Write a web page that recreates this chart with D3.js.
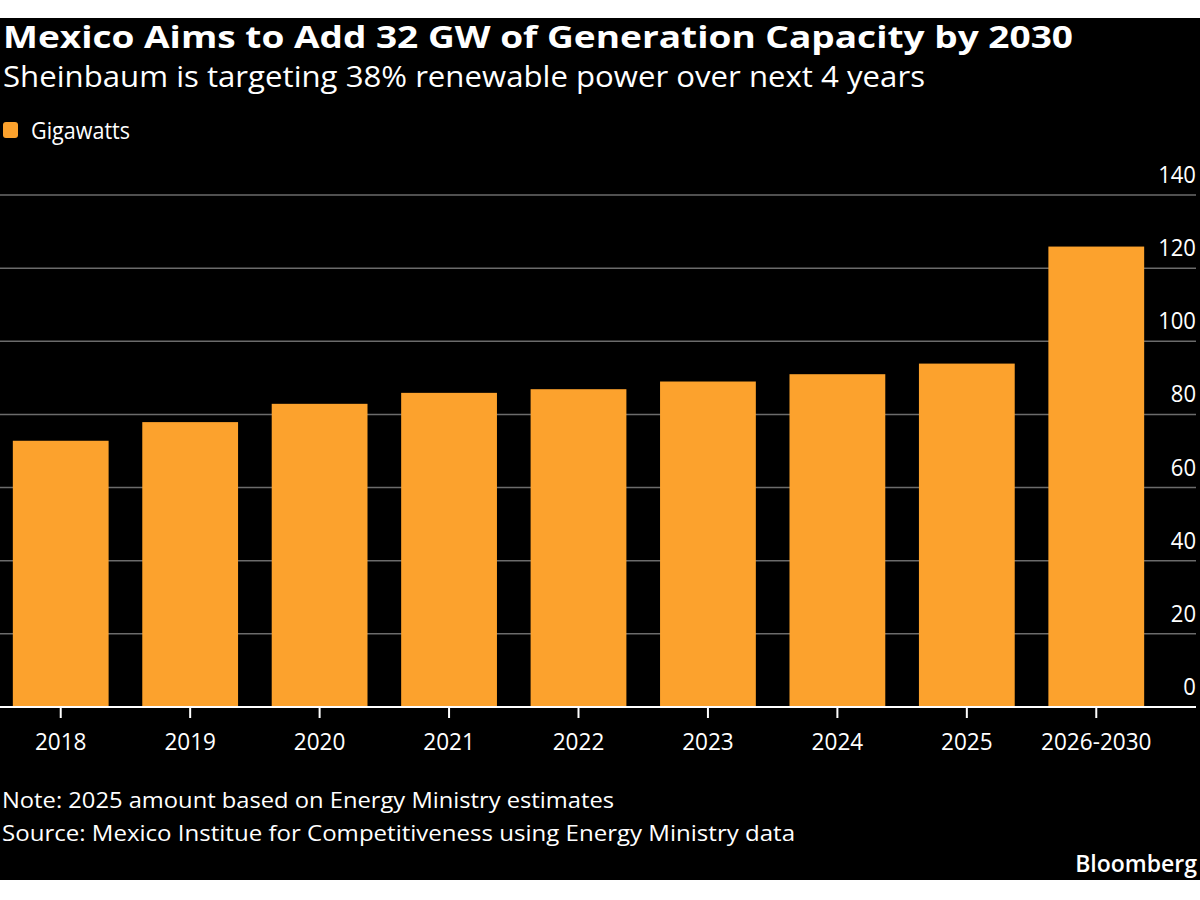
<!DOCTYPE html>
<html>
<head>
<meta charset="utf-8">
<script src="https://cdn.jsdelivr.net/npm/d3@7"></script>
<style>
  body { margin: 0; background: #fff; }
  svg text { font-family: "Open Sans", "Noto Sans", sans-serif; fill: #fff; }
</style>
</head>
<body>
<svg id="chart" width="1200" height="900"></svg>
<script>
// Data
const categories = ["2018", "2019", "2020", "2021", "2022", "2023", "2024", "2025", "2026-2030"];
const gigawatts = [72.8, 77.9, 82.9, 85.9, 86.9, 89.0, 91.0, 93.9, 125.9];
const yTicks = [0, 20, 40, 60, 80, 100, 120, 140];

const titleText = "Mexico Aims to Add 32 GW of Generation Capacity by 2030";
const subtitleText = "Sheinbaum is targeting 38% renewable power over next 4 years";
const legendText = "Gigawatts";
const noteText = "Note: 2025 amount based on Energy Ministry estimates";
const sourceText = "Source: Mexico Institue for Competitiveness using Energy Ministry data";

const svg = d3.select("#chart");

// black panel
svg.append("rect")
    .attr("x", 0).attr("y", 18)
    .attr("width", 1200).attr("height", 862)
    .attr("fill", "#000");

// scales
const x = d3.scaleBand()
    .domain(categories)
    .range([-4, 1161])
    .paddingInner(0.26)
    .paddingOuter(0.13);

const y = d3.scaleLinear()
    .domain([0, 140])
    .range([707, 195]);

// gridlines + y labels (right side, above lines)
svg.append("g").selectAll("line")
    .data(yTicks.filter(d => d > 0))
    .join("line")
    .attr("x1", 0).attr("x2", 1196)
    .attr("y1", d => y(d)).attr("y2", d => y(d))
    .attr("stroke", "#6b6b6b")
    .attr("stroke-width", 1.5);

svg.append("g").selectAll("text")
    .data(yTicks)
    .join("text")
    .attr("x", 1196)
    .attr("y", d => y(d) - 12)
    .attr("text-anchor", "end")
    .attr("font-size", 24)
    .attr("transform", d => "translate(1196," + (y(d) - 12) + ") scale(0.92,1) translate(-1196," + (-(y(d) - 12)) + ")")
    .text(d => d);

// bars
svg.append("g").selectAll("rect")
    .data(gigawatts)
    .join("rect")
    .attr("x", (d, i) => x(categories[i]))
    .attr("y", d => y(d))
    .attr("width", x.bandwidth())
    .attr("height", d => y(0) - y(d))
    .attr("fill", "#fca22d");

// x axis
const xAxis = svg.append("g")
    .attr("transform", "translate(0," + y(0) + ")")
    .call(d3.axisBottom(x).tickSize(11).tickPadding(15));
xAxis.select(".domain").remove();
xAxis.selectAll(".tick line").attr("stroke", "#fff").attr("stroke-width", 2);
xAxis.selectAll(".tick text")
    .attr("fill", "#fff")
    .attr("font-size", 24)
    .attr("font-family", "\"Open Sans\", sans-serif")
    .attr("transform", "scale(0.94,1)");
svg.append("line")
    .attr("x1", 0).attr("x2", 1196)
    .attr("y1", y(0)).attr("y2", y(0))
    .attr("stroke", "#fff")
    .attr("stroke-width", 2);

// titles
svg.append("text")
    .attr("x", 3).attr("y", 48)
    .attr("font-size", 31)
    .attr("font-weight", 700)
    .attr("textLength", 1070)
    .attr("lengthAdjust", "spacingAndGlyphs")
    .text(titleText);

svg.append("text")
    .attr("x", 3).attr("y", 87)
    .attr("font-size", 29)
    .attr("textLength", 922)
    .attr("lengthAdjust", "spacingAndGlyphs")
    .text(subtitleText);

// legend
svg.append("rect")
    .attr("x", 3).attr("y", 122)
    .attr("width", 15).attr("height", 16)
    .attr("rx", 3)
    .attr("fill", "#fca22d");
svg.append("text")
    .attr("x", 31).attr("y", 139)
    .attr("font-size", 24)
    .attr("textLength", 99)
    .attr("lengthAdjust", "spacingAndGlyphs")
    .text(legendText);

// footnotes
svg.append("text")
    .attr("x", 2).attr("y", 808)
    .attr("font-size", 22)
    .attr("textLength", 612)
    .attr("lengthAdjust", "spacingAndGlyphs")
    .text(noteText);
svg.append("text")
    .attr("x", 2).attr("y", 841)
    .attr("font-size", 22)
    .attr("textLength", 793)
    .attr("lengthAdjust", "spacingAndGlyphs")
    .text(sourceText);

svg.append("text")
    .attr("x", 1197).attr("y", 872)
    .attr("text-anchor", "end")
    .attr("font-size", 23)
    .attr("font-weight", 600)
    .text("Bloomberg");
</script>
</body>
</html>
